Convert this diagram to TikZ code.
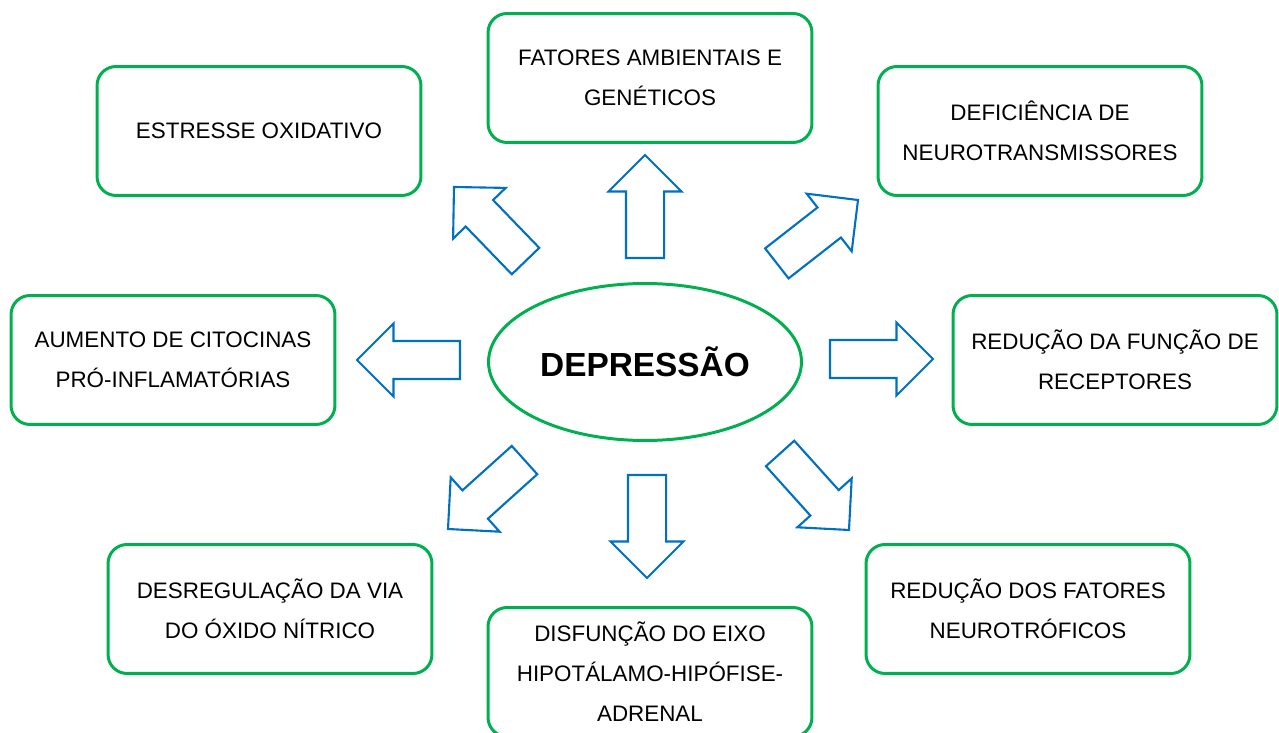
\documentclass[tikz,border=0pt]{standalone}
\usepackage{fontspec}
\setmainfont{Liberation Sans}
\usetikzlibrary{shapes.geometric,shapes.arrows}
\definecolor{boxgreen}{RGB}{0,176,80}
\definecolor{arrowblue}{RGB}{0,112,192}
\begin{document}
\begin{tikzpicture}[x=0.02cm,y=-0.02cm,inner sep=0pt,outer sep=0pt,
causebox/.style={draw=boxgreen,line width=1.7pt,rounded corners=0.38cm,minimum width=6.48cm,minimum height=2.58cm,align=center,font=\fontsize{12.75}{22.8}\selectfont},
blockarrow/.style={draw=arrowblue,line width=1.2pt,fill=white,single arrow,single arrow head extend=0.35cm,inner ysep=0.36cm,minimum height=2.06cm,anchor=tip}]
\useasboundingbox (0,0) rectangle (1279,733);

\draw (645,362) node[draw=boxgreen,line width=1.7pt,ellipse,minimum width=6.26cm,minimum height=3.14cm,font=\bfseries\fontsize{19}{22}\selectfont] (dep) {DEPRESSÃO};

% causas
\draw (259,131) node[causebox] (oxid) {ESTRESSE OXIDATIVO};
\draw (650,78) node[causebox] (amb) {FATORES AMBIENTAIS E\\GENÉTICOS};
\draw (1040,131) node[causebox] (neuro) {DEFICIÊNCIA DE\\NEUROTRANSMISSORES};
\draw (173,360) node[causebox] (cito) {AUMENTO DE CITOCINAS\\PRÓ-INFLAMATÓRIAS};
\draw (1115,360) node[causebox] (recep) {REDUÇÃO DA FUNÇÃO DE\\RECEPTORES};
\draw (270,609) node[causebox] (nitr) {DESREGULAÇÃO DA VIA\\DO ÓXIDO NÍTRICO};
\draw (650,672) node[causebox] (hha) {DISFUNÇÃO DO EIXO\\HIPOTÁLAMO-HIPÓFISE-\\ADRENAL};
\draw (1028,609) node[causebox] (trof) {REDUÇÃO DOS FATORES\\NEUROTRÓFICOS};

% setas
\draw (645,155) node[blockarrow,rotate=90] (aup) {};
\draw (647,578) node[blockarrow,rotate=-90] (adown) {};
\draw (357,360) node[blockarrow,rotate=180] (aleft) {};
\draw (933,359) node[blockarrow] (aright) {};
\draw (454,187) node[blockarrow,rotate=134] (aul) {};
\draw (858,200) node[blockarrow,rotate=38] (aur) {};
\draw (448,529) node[blockarrow,rotate=222] (all) {};
\draw (849,530) node[blockarrow,rotate=-48] (alr) {};
\end{tikzpicture}
\end{document}
